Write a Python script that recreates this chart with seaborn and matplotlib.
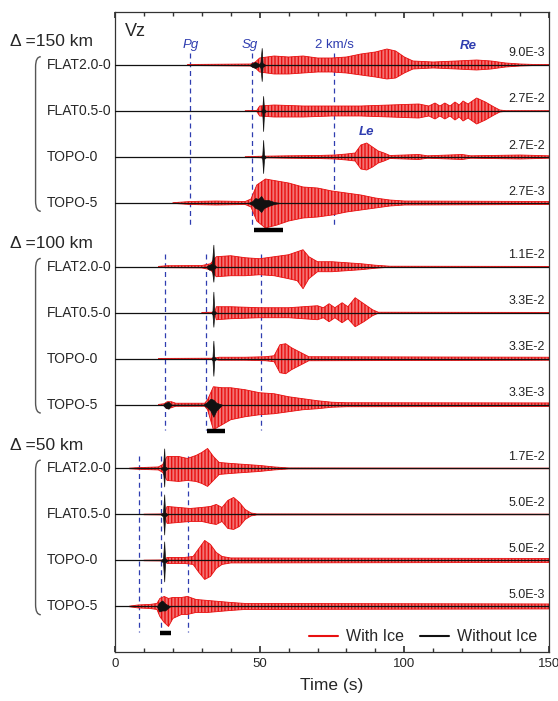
import numpy as np
import pandas as pd
import seaborn as sns
import matplotlib.pyplot as plt
import matplotlib.transforms as mtransforms
from matplotlib.path import Path
from matplotlib.patches import PathPatch
from matplotlib.ticker import MultipleLocator

# ---- labels ----
distances = ['150', '100', '50']
models = ['FLAT2.0-0', 'FLAT0.5-0', 'TOPO-0', 'TOPO-5']
amp_150 = ['9.0E-3', '2.7E-2', '2.7E-2', '2.7E-3']
amp_100 = ['1.1E-2', '3.3E-2', '3.3E-2', '3.3E-3']
amp_50 = ['1.7E-2', '5.0E-2', '5.0E-2', '5.0E-3']

# phase arrival times (s) for 150, 100, 50 km
pg_time = [25.9, 17.3, 8.4]
sg_time = [47.2, 31.5, 15.8]
v2_time = [75.8, 50.5, 25.3]
bar_start = [48.0, 31.9, 15.6]
bar_end = [58.0, 38.1, 19.2]

# ---- envelopes: (time s, amplitude up, amplitude down) ----
# amplitudes in units of 1/46 of the trace spacing
red_150_flat20 = [(25, .5, .5), (47, 1, 1), (48.5, 3, 3), (50, 7, 7), (55, 9, 9), (60, 8, 9),
                  (65, 9, 8), (70, 7, 7), (75, 7, 7), (80, 8, 8), (85, 11, 10), (90, 13, 12),
                  (94, 16, 14), (97, 14, 13), (100, 8, 8), (103, 4, 4), (110, 3, 3), (118, 4, 4),
                  (125, 5, 5), (130, 4, 4), (135, 2, 2), (140, 1, 1), (145, .5, .5), (150, .5, .5)]
red_150_flat05 = [(45, .3, .3), (49, .5, .5), (50, 5, 5), (55, 6, 6), (65, 5, 6), (75, 5, 5),
                  (85, 5, 5), (95, 6, 6), (105, 7, 7), (108.5, 5, 5), (110.6, 8, 8), (112.3, 5, 5),
                  (114, 8, 8), (115.8, 5, 5), (117.5, 9, 9), (119, 6, 6), (120.3, 10, 10),
                  (122, 7, 7), (125, 13, 13), (128, 9, 9), (131, 4, 4), (133, 1, 1),
                  (135, .3, .3), (150, .3, .3)]
red_150_topo0 = [(45, .3, .3), (51, .8, .8), (60, 1.2, 1.2), (70, 1.5, 1.5), (76, 2, 2), (80, 3, 3),
                 (83, 4, 4), (85, 12, 12), (87, 14, 13), (89, 10, 10), (91, 6, 6), (93, 4, 4),
                 (95, 1.5, 1.5), (105, 2.5, 2.5), (108, 1.2, 1.2), (120, 2.5, 2.5),
                 (123, 1.2, 1.2), (140, 2, 2), (150, 1.2, 1.2)]
red_150_topo5 = [(20, .3, .3), (26, 1.5, 1.5), (35, 2, 2), (45, 1.5, 1.5), (47, 4, 4), (49, 18, 18),
                 (52, 24, 25), (56, 22, 22), (60, 20, 18), (65, 16, 15), (70, 15, 14), (75, 12, 12),
                 (80, 10, 9), (85, 8, 7), (90, 5, 5), (95, 3, 3), (100, 2, 2), (150, 1.5, 1.5)]

red_100_flat20 = [(15, .3, .3), (18, 1, 1), (30, 1.2, 1.2), (33, 3, 3), (35, 10, 10), (40, 11, 9),
                  (45, 9, 9), (50, 8, 8), (55, 10, 9), (60, 12, 12), (63, 15, 14), (65, 17, 22),
                  (67, 10, 12), (70, 5, 5), (75, 5, 5), (80, 4, 4), (85, 3, 3), (90, 1.5, 1.5),
                  (95, .5, .5), (150, .3, .3)]
red_100_flat05 = [(30, .3, .3), (34.5, .5, .5), (35, 6, 7), (40, 6, 6), (50, 5, 5), (60, 5, 5),
                  (65, 6, 6), (70, 7, 7), (72, 5, 5), (74, 9, 9), (76, 5, 5), (78.5, 10, 10),
                  (80.5, 6, 6), (83, 15, 14), (86, 9, 9), (89, 3, 3), (91, .5, .5), (150, .3, .3)]
red_100_topo0 = [(15, .3, .3), (34, .5, .5), (36, 1.5, 1.5), (45, 1.5, 1.5), (52, 2, 2), (55, 3, 3),
                 (57, 14, 14), (59, 15, 15), (61, 11, 11), (63, 8, 8), (65, 5, 5), (67, 2, 2),
                 (150, 1.5, 1.5)]
red_100_topo5 = [(15, .3, .3), (17, 1, 1), (18, 3, 4), (19.5, 3, 3), (21, 1.5, 1.5), (31, 1.5, 1.5),
                 (32, 5, 5), (34, 18, 25), (37, 17, 20), (40, 17, 15), (45, 15, 12), (50, 12, 10),
                 (55, 11, 9), (60, 8, 7), (65, 6, 5), (70, 4, 4), (75, 2.5, 2.5), (80, 2, 2),
                 (150, 1.8, 1.8)]

red_50_flat20 = [(5, .3, .3), (8, .8, .8), (15, 1.5, 1.5), (16.5, 4, 4), (18, 12, 12), (22, 12, 13),
                 (25, 10, 12), (28, 13, 13), (30, 16, 15), (32, 20, 18), (34, 12, 12), (36, 6, 6),
                 (40, 5, 5), (45, 4, 4), (50, 3, 3), (55, 1.5, 1.5), (60, .5, .5), (150, .3, .3)]
red_50_flat05 = [(10, .3, .3), (17, .5, .5), (18, 8, 9), (22, 7, 8), (26, 6, 7), (30, 7, 7),
                 (33, 8, 9), (35, 10, 10), (37, 7, 7), (39, 14, 14), (41, 17, 15), (43, 12, 12),
                 (45, 5, 5), (47, 1.5, 1.5), (49, .5, .5), (150, .3, .3)]
red_50_topo0 = [(10, .3, .3), (17, .5, .5), (18, 3, 3), (24, 3, 3), (27, 4, 4), (29, 12, 12),
                (31, 20, 19), (33, 16, 16), (35, 8, 8), (37, 4, 4), (40, 2.5, 2.5), (150, 2, 2)]
red_50_topo5 = [(5, .3, .3), (8, 1.5, 1.5), (12, 2, 2), (14.5, 3, 3), (15.5, 8, 10), (17, 10, 16),
                (18.5, 8, 20), (20, 9, 12), (23, 9, 8), (25, 10, 8), (28, 7, 6), (32, 6, 6),
                (36, 5, 5), (40, 4, 4), (45, 3, 3), (150, 2.5, 2.5)]

blk_150_flat20 = [(46.5, 0, 0), (47.5, 2, 2), (48.5, 3, 3), (49.8, 1, 1), (50.3, 3, 3),
                  (50.7, 17, 16), (51.0, 2, 2), (52, 0, 0)]
blk_150_flat05 = [(50.5, 0, 0), (50.9, 2, 2), (51.2, 15, 20), (51.5, 2, 2), (52.2, 0, 0)]
blk_150_topo0 = [(50.5, 0, 0), (50.9, 2, 2), (51.2, 17, 16), (51.5, 2, 2), (52.2, 0, 0)]
blk_150_topo5 = [(46, 0, 0), (47.5, 2, 2), (48.5, 5, 5), (49.5, 4, 6), (50.5, 7, 9), (51.5, 3, 5),
                 (53, 3, 3), (55, 1, 1), (57, 0, 0)]
blk_100_flat20 = [(31.5, 0, 0), (32.5, 2, 3), (33.5, 3, 3), (34, 22, 15), (34.3, 2, 2), (35, 0, 0)]
blk_100_flat05 = [(33.3, 0, 0), (33.7, 2, 2), (34, 21, 14), (34.3, 2, 2), (35, 0, 0)]
blk_100_topo0 = [(33.3, 0, 0), (33.7, 2, 2), (34, 18, 17), (34.3, 2, 2), (35, 0, 0)]
blk_100_topo5 = [(16.5, 0, 0), (17.5, 2, 3), (18.5, 3, 4), (19.5, 0, 0), (30.5, 0, 0), (32, 3, 3),
                 (33, 6, 6), (34, 5, 12), (35, 2, 6), (37, 0, 0)]
blk_50_flat20 = [(15.8, 0, 0), (16.6, 2, 2), (17, 20, 18), (17.3, 2, 2), (18.2, 0, 0)]
blk_50_flat05 = [(15.8, 0, 0), (16.6, 2, 2), (17, 20, 20), (17.3, 2, 2), (18.2, 0, 0)]
blk_50_topo0 = [(15.8, 0, 0), (16.6, 2, 2), (17, 19, 21), (17.3, 2, 2), (18.2, 0, 0)]
blk_50_topo5 = [(14.5, 0, 0), (15.3, 4, 5), (16.3, 6, 4), (17.3, 3, 4), (19, 0, 0)]

red_traces = [[red_150_flat20, red_150_flat05, red_150_topo0, red_150_topo5],
              [red_100_flat20, red_100_flat05, red_100_topo0, red_100_topo5],
              [red_50_flat20, red_50_flat05, red_50_topo0, red_50_topo5]]
blk_traces = [[blk_150_flat20, blk_150_flat05, blk_150_topo0, blk_150_topo5],
              [blk_100_flat20, blk_100_flat05, blk_100_topo0, blk_100_topo5],
              [blk_50_flat20, blk_50_flat05, blk_50_topo0, blk_50_topo5]]
amps = [amp_150, amp_100, amp_50]

rows = []
for g, d in enumerate(distances):
    for k, m in enumerate(models):
        for kind, src in (('red', red_traces[g][k]), ('black', blk_traces[g][k])):
            for t, up, dn in src:
                rows.append(dict(dist=d, model=m, kind=kind, t=t, up=up, down=dn))
env = pd.DataFrame(rows)

# ---- layout ----
group_start = [0.0, 4.385, 8.77]
unit = 1 / 46.0
RED = '#e81010'
BLUE = '#2f3db0'

sns.set_theme(style='ticks')
plt.rcParams['font.family'] = ['Liberation Sans', 'DejaVu Sans']
plt.rcParams['hatch.linewidth'] = 1.0

fig = plt.figure(figsize=(5.58, 7.01), dpi=100)
ax = fig.add_axes([115 / 558, 1 - 652 / 701, 434 / 558, 640 / 701])
trans = mtransforms.blended_transform_factory(ax.transAxes, ax.transData)

for g, d in enumerate(distances):
    g0 = group_start[g]
    for k, m in enumerate(models):
        base = g0 + k
        sub = env[(env.dist == d) & (env.model == m)]
        r = sub[sub.kind == 'red']
        # light body + dense vertical strokes to mimic the oscillations
        ax.fill_between(r.t, base - r.up * unit, base + r.down * unit,
                        facecolor='#f27474', edgecolor=RED, hatch='|||||', lw=0, zorder=2)
        ax.plot(r.t, base - r.up * unit, color=RED, lw=0.6, zorder=2)
        ax.plot(r.t, base + r.down * unit, color=RED, lw=0.6, zorder=2)
        ax.axhline(base, color='#111111', lw=0.9, zorder=3)
        b = sub[sub.kind == 'black']
        ax.fill_between(b.t, base - b.up * unit, base + b.down * unit,
                        color='#111111', lw=0.5, zorder=4)
        ax.text(-0.157, base, m, transform=trans, ha='left', va='center', fontsize=10)
        ax.text(0.991, base - 0.25, amps[g][k], ha='right', va='center',
                transform=trans, fontsize=9, color='#222222')
    # phase lines
    for tt in (pg_time[g], sg_time[g], v2_time[g]):
        ax.vlines(tt, g0 - 0.27, g0 + 3.55, colors=BLUE, lw=0.9,
                  linestyles=(0, (4, 3)), zorder=1)
    ax.hlines(g0 + 3.58, bar_start[g], bar_end[g], colors='black', lw=3.2, zorder=5)
    ax.text(-0.242, g0 - 0.5, '\u0394 =' + d + ' km', transform=trans,
            ha='left', va='center', fontsize=12.5)
    # bracket
    x0, x1 = -0.183, -0.171
    yt, yb, rr = g0 - 0.18, g0 + 3.18, 0.22
    verts = [(x1, yt), (x0, yt), (x0, yt + rr), (x0, yb - rr), (x0, yb), (x1, yb)]
    codes = [Path.MOVETO, Path.CURVE3, Path.CURVE3, Path.LINETO, Path.CURVE3, Path.CURVE3]
    ax.add_patch(PathPatch(Path(verts, codes), transform=trans, fill=False,
                           edgecolor='#555555', lw=1.0, clip_on=False))

ax.text(26, -0.43, 'Pg', color=BLUE, style='italic', fontsize=9.5, ha='center', va='center')
ax.text(46.5, -0.43, 'Sg', color=BLUE, style='italic', fontsize=9.5, ha='center', va='center')
ax.text(75.7, -0.43, '2 km/s', color=BLUE, fontsize=9.5, ha='center', va='center')
ax.text(122, -0.41, 'Re', color=BLUE, style='italic', weight='bold', fontsize=9.5,
        ha='center', va='center')
ax.text(87, 1.46, 'Le', color=BLUE, style='italic', weight='bold', fontsize=9.5,
        ha='center', va='center')
ax.text(0.023, -0.72, 'Vz', transform=trans, fontsize=13, ha='left', va='center')

ax.plot([], [], color=RED, lw=1.5, label='With Ice')
ax.plot([], [], color='#111111', lw=1.5, label='Without Ice')
ax.legend(ncol=2, frameon=False, loc='center right', bbox_to_anchor=(1.005, 0.024),
          fontsize=11.5, handlelength=1.8, columnspacing=1.0, handletextpad=0.5)

ax.set_xlim(0, 150)
ax.set_ylim(12.76, -1.152)
ax.set_yticks([])
ax.set_xticks([0, 50, 100, 150])
ax.xaxis.set_minor_locator(MultipleLocator(10))
ax.tick_params(which='both', direction='in', top=True, bottom=True, left=False, right=False,
               labelsize=9.5, pad=4, color='#333333')
ax.tick_params(which='major', length=4)
ax.tick_params(which='minor', length=3)
for s in ax.spines.values():
    s.set_color('#333333')
    s.set_linewidth(0.9)
ax.set_xlabel('Time (s)', fontsize=12.5, labelpad=6)

fig.savefig('out.png', dpi=100)
